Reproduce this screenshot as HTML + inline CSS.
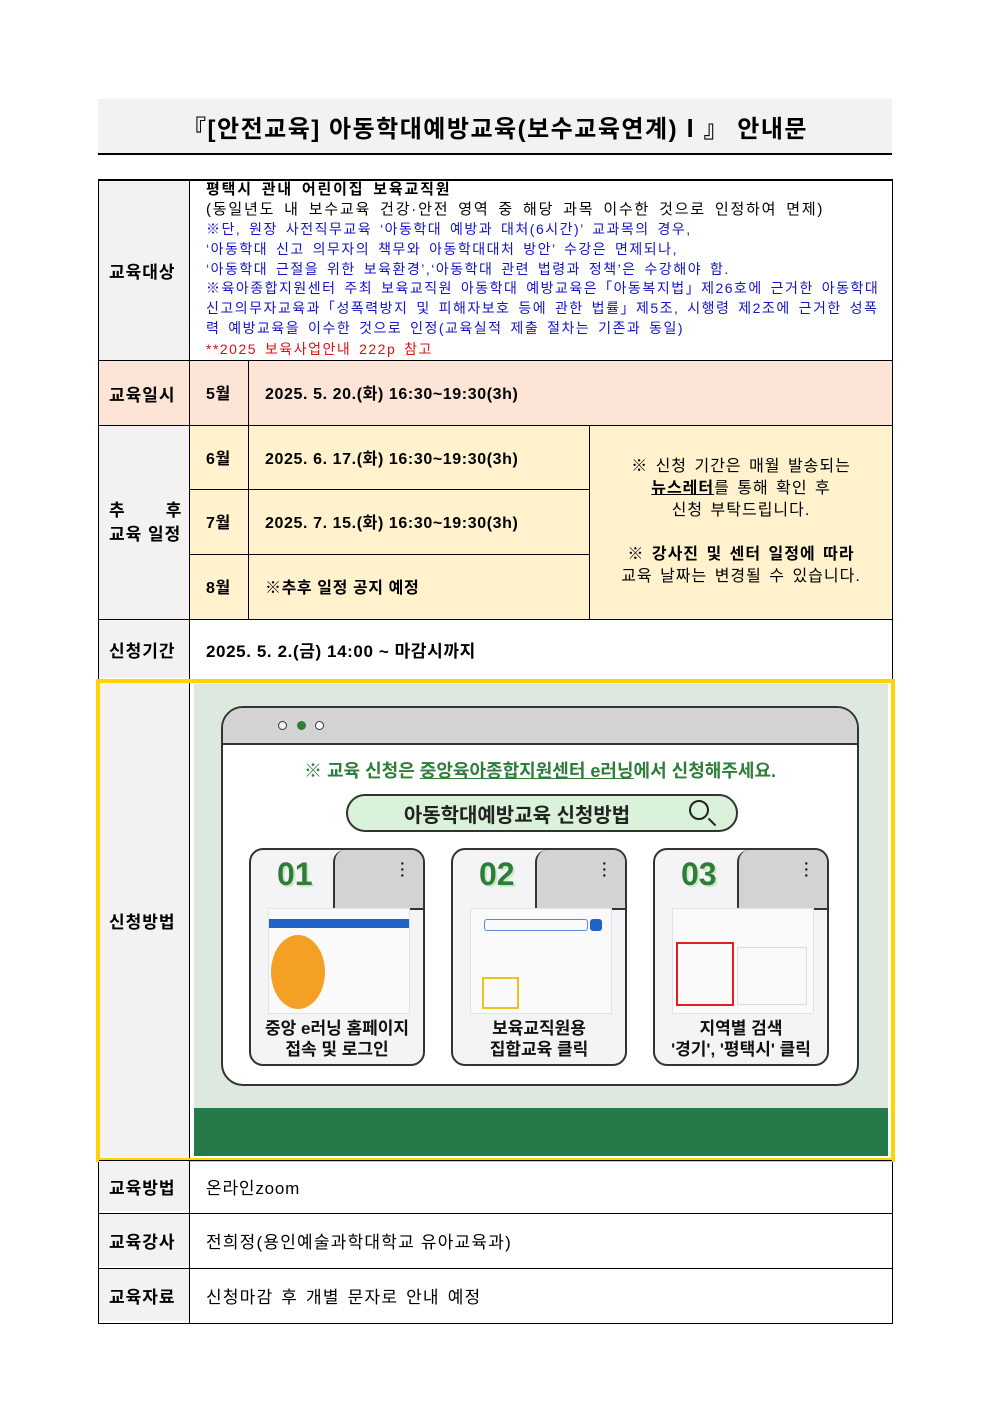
<!DOCTYPE html>
<html><head><meta charset="utf-8"><style>
body{margin:0;width:992px;height:1403px;background:#fff;position:relative;font-family:"Liberation Sans","Noto Sans CJK KR",sans-serif;color:#000;overflow:hidden}
.a{position:absolute;box-sizing:border-box}
.c{display:flex;align-items:center}
.lb{font-size:17px;font-weight:bold;padding-left:10px;background:#f2f2f2;letter-spacing:1px}
.t{font-size:16px;font-weight:bold;letter-spacing:0.6px}
.h{border-top:1px solid #000}
.v{border-left:1px solid #000}
.card{position:absolute;border:2px solid #333;border-radius:14px;background:#f4f4f6;overflow:hidden;box-sizing:border-box}
.tab{position:absolute;right:0;top:0;height:58px;background:#d3d3d3;border-left:2px solid #333;border-bottom:2px solid #333;border-top-left-radius:12px}
.num{position:absolute;left:26px;top:6px;font-size:32px;font-weight:bold;color:#2e7d3a;text-shadow:2px 2px 0 #cfe8c8}
.shot{position:absolute;left:17px;top:58px;width:140px;height:104px;background:#fafafa;border:1px solid #e2e2e2}
.cap{position:absolute;left:0;right:0;top:168px;text-align:center;font-size:17px;font-weight:bold;line-height:21px;color:#111}
</style></head><body>
<div class="a c" style="left:98px;top:99px;width:794px;height:56px;background:#f2f2f2;border-bottom:2px solid #000;justify-content:center;font-size:24px;font-weight:bold;letter-spacing:1.5px">『[안전교육] 아동학대예방교육(보수교육연계)Ⅰ』 안내문</div>

<div class="a" style="left:98px;top:179px;width:795px;height:1145px;border:1px solid #000;border-top:2px solid #000"></div>

<div class="a c lb" style="left:99px;top:181px;width:90px;height:179px">교육대상</div>
<div class="a v" style="left:189px;top:181px;height:179px"></div>
<div class="a" style="left:206px;top:180px;width:684px;font-size:15px;line-height:20px;white-space:nowrap">
<div style="font-weight:bold;letter-spacing:1.8px;word-spacing:3px">평택시 관내 어린이집 보육교직원</div>
<div style="letter-spacing:1.8px;word-spacing:3px">(동일년도 내 보수교육 건강·안전 영역 중 해당 과목 이수한 것으로 인정하여 면제)</div>
<div style="color:#1515c8;font-size:14px;line-height:19.8px;letter-spacing:1.5px;word-spacing:2.5px">※단, 원장 사전직무교육 ‘아동학대 예방과 대처(6시간)’ 교과목의 경우,<br>‘아동학대 신고 의무자의 책무와 아동학대대처 방안’ 수강은 면제되나,<br>‘아동학대 근절을 위한 보육환경’,‘아동학대 관련 법령과 정책’은 수강해야 함.<br>※육아종합지원센터 주최 보육교직원 아동학대 예방교육은「아동복지법」제26호에 근거한 아동학대<br>신고의무자교육과「성폭력방지 및 피해자보호 등에 관한 법률」제5조, 시행령 제2조에 근거한 성폭<br>력 예방교육을 이수한 것으로 인정(교육실적 제출 절차는 기존과 동일)</div>
<div style="color:#e01010;font-size:14px;letter-spacing:1.5px;word-spacing:2.5px">**2025 보육사업안내 222p 참고</div>
</div>

<div class="a h" style="left:99px;top:360px;width:793px;height:65px;background:#fce4d6"></div>
<div class="a c lb" style="left:99px;top:361px;width:90px;height:64px;background:#fce4d6">교육일시</div>
<div class="a v" style="left:189px;top:361px;height:64px"></div>
<div class="a v" style="left:248px;top:361px;height:64px"></div>
<div class="a c t" style="left:206px;top:361px;height:62px">5월</div>
<div class="a c t" style="left:265px;top:361px;height:62px">2025. 5. 20.(화) 16:30~19:30(3h)</div>

<div class="a h" style="left:99px;top:425px;width:793px;height:195px;background:#fff2cc"></div>
<div class="a lb" style="left:99px;top:426px;width:90px;height:193px;padding-top:73px;line-height:24px">추&nbsp;&nbsp;&nbsp;&nbsp;&nbsp;&nbsp;&nbsp;후<br>교육 일정</div>
<div class="a v" style="left:189px;top:426px;height:193px"></div>
<div class="a v" style="left:248px;top:426px;height:193px"></div>
<div class="a v" style="left:589px;top:426px;height:193px"></div>
<div class="a h" style="left:189px;top:489px;width:400px"></div>
<div class="a h" style="left:189px;top:554px;width:400px"></div>
<div class="a c t" style="left:206px;top:426px;height:61px">6월</div>
<div class="a c t" style="left:265px;top:426px;height:61px">2025. 6. 17.(화) 16:30~19:30(3h)</div>
<div class="a c t" style="left:206px;top:490px;height:62px">7월</div>
<div class="a c t" style="left:265px;top:490px;height:62px">2025. 7. 15.(화) 16:30~19:30(3h)</div>
<div class="a c t" style="left:206px;top:555px;height:62px">8월</div>
<div class="a c t" style="left:265px;top:555px;height:62px">※추후 일정 공지 예정</div>
<div class="a" style="left:590px;top:456px;width:302px;text-align:center;font-size:16px;line-height:22px;letter-spacing:1px;word-spacing:2px">※ 신청 기간은 매월 발송되는<br><u style="font-weight:bold">뉴스레터</u>를 통해 확인 후<br>신청 부탁드립니다.<br><br><b>※ 강사진 및 센터 일정에 따라</b><br>교육 날짜는 변경될 수 있습니다.</div>

<div class="a h" style="left:99px;top:619px;width:793px"></div>
<div class="a c lb" style="left:99px;top:620px;width:90px;height:58px">신청기간</div>
<div class="a v" style="left:189px;top:620px;height:60px"></div>
<div class="a c t" style="left:206px;top:620px;height:58px;font-size:17px">2025. 5. 2.(금) 14:00 ~ 마감시까지</div>

<div class="a c lb" style="left:99px;top:682px;width:90px;height:476px">신청방법</div>
<div class="a v" style="left:189px;top:682px;height:476px"></div>
<div class="a" style="left:194px;top:684px;width:694px;height:472px;background:#dde8df"></div>
<div class="a" style="left:194px;top:1108px;width:694px;height:48px;background:#267a4a"></div>
<div class="a" style="left:96px;top:679px;width:799px;height:483px;border:4px solid #ffd400"></div>

<div class="a" style="left:221px;top:706px;width:638px;height:380px;background:#fff;border:2px solid #333;border-radius:22px;overflow:hidden">
 <div class="a" style="left:0;top:0;width:100%;height:37px;background:#d3d3d3;border-bottom:2px solid #333"></div>
 <div class="a" style="left:55px;top:13px;width:9px;height:9px;border:1.5px solid #333;border-radius:50%;background:#eaf5ea"></div>
 <div class="a" style="left:74px;top:13px;width:9px;height:9px;border-radius:50%;background:#2e7d3a"></div>
 <div class="a" style="left:92px;top:13px;width:9px;height:9px;border:1.5px solid #333;border-radius:50%;background:#fff"></div>
 <div class="a" style="left:0;top:49px;width:100%;text-align:center;font-size:18px;font-weight:bold;color:#2e7d3a">※ 교육 신청은 <u>중앙육아종합지원센터 e러닝</u>에서 신청해주세요.</div>
 <div class="a c" style="left:123px;top:86px;width:392px;height:38px;border:2px solid #333;border-radius:20px;background:#d9f2d9;justify-content:center;font-size:20px;font-weight:bold;color:#222;padding-right:50px">아동학대예방교육 신청방법</div>
 <div class="a" style="left:466px;top:92px;width:20px;height:20px;border:2px solid #222;border-radius:50%"></div>
 <div class="a" style="left:484px;top:113px;width:10px;height:2px;background:#222;transform:rotate(45deg)"></div>
</div>

<div class="card" style="left:249px;top:848px;width:176px;height:218px"><div class="tab" style="width:88px"></div><div class="a" style="right:18px;top:10px;font-weight:bold;font-size:14px;line-height:6px">·<br>·<br>·</div><div class="num">01</div>
 <div class="shot"><div class="a" style="left:0;top:10px;width:100%;height:9px;background:#1f63c6"></div><div class="a" style="left:2px;top:26px;width:54px;height:74px;border-radius:50%;background:#f4a024"></div></div>
 <div class="cap">중앙 e러닝 홈페이지<br>접속 및 로그인</div></div>
<div class="card" style="left:451px;top:848px;width:176px;height:218px"><div class="tab" style="width:88px"></div><div class="a" style="right:18px;top:10px;font-weight:bold;font-size:14px;line-height:6px">·<br>·<br>·</div><div class="num">02</div>
 <div class="shot"><div class="a" style="left:13px;top:10px;width:104px;height:12px;border:1px solid #5c8ad6;border-radius:3px"></div><div class="a" style="left:119px;top:10px;width:12px;height:12px;background:#1f63c6;border-radius:3px"></div><div class="a" style="left:11px;top:68px;width:37px;height:32px;border:2px solid #f0c020"></div></div>
 <div class="cap">보육교직원용<br>집합교육 클릭</div></div>
<div class="card" style="left:653px;top:848px;width:176px;height:218px"><div class="tab" style="width:88px"></div><div class="a" style="right:18px;top:10px;font-weight:bold;font-size:14px;line-height:6px">·<br>·<br>·</div><div class="num">03</div>
 <div class="shot"><div class="a" style="left:3px;top:33px;width:58px;height:64px;border:2px solid #e02020"></div><div class="a" style="left:64px;top:38px;width:70px;height:58px;border:1px solid #ddd"></div></div>
 <div class="cap">지역별 검색<br>'경기', '평택시' 클릭</div></div>

<div class="a h" style="left:99px;top:1160px;width:793px"></div>
<div class="a c lb" style="left:99px;top:1161px;width:90px;height:50px">교육방법</div>
<div class="a v" style="left:189px;top:1161px;height:162px"></div>
<div class="a c" style="left:206px;top:1161px;height:50px;font-size:17px;letter-spacing:0.8px">온라인zoom</div>
<div class="a h" style="left:99px;top:1213px;width:793px"></div>
<div class="a c lb" style="left:99px;top:1214px;width:90px;height:52px">교육강사</div>
<div class="a c" style="left:206px;top:1214px;height:52px;font-size:17px;letter-spacing:1.2px">전희정(용인예술과학대학교 유아교육과)</div>
<div class="a h" style="left:99px;top:1268px;width:793px"></div>
<div class="a c lb" style="left:99px;top:1269px;width:90px;height:52px">교육자료</div>
<div class="a c" style="left:206px;top:1269px;height:52px;font-size:17px;letter-spacing:1.2px;word-spacing:2px">신청마감 후 개별 문자로 안내 예정</div>
</body></html>
